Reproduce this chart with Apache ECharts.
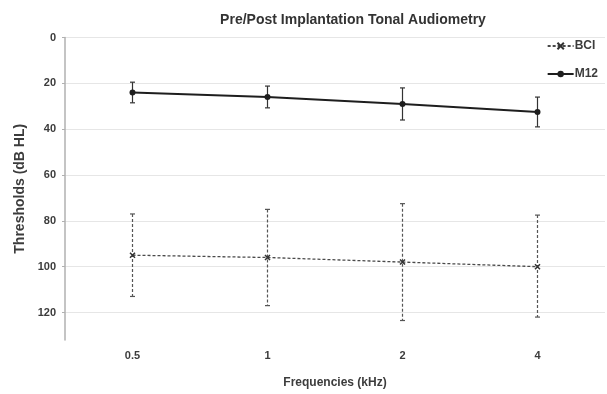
<!DOCTYPE html>
<html>
<head>
<meta charset="utf-8">
<script src="https://cdn.jsdelivr.net/npm/echarts@6/dist/echarts.min.js"></script>
<style>
html,body{margin:0;padding:0;background:#fff;}
#chart{width:607px;height:394px;}
</style>
</head>
<body>
<div id="chart"></div>
<script>
const categories = ['0.5', '1', '2', '4'];
const bciMean = [95, 96, 98, 100];
const bciLow = [77, 75, 72.5, 77.5];
const bciHigh = [113, 117, 123.5, 122];
const m12Mean = [24, 26, 29, 32.5];
const m12Low = [19.5, 21.2, 22, 26];
const m12High = [28.5, 30.7, 36, 39];
const yTicks = [0, 20, 40, 60, 80, 100, 120];

const font = '"Liberation Sans", Arial, sans-serif';
const textColor = '#3c3c3c';

function errData(low, high) {
  return categories.map((c, i) => [i, low[i], high[i]]);
}
function errRender(color, width, dash) {
  return function (params, api) {
    const x = api.value(0);
    const a = api.coord([x, api.value(1)]);
    const b = api.coord([x, api.value(2)]);
    const cw = 2.5;
    const st = { stroke: color, lineWidth: width, lineDash: dash };
    return {
      type: 'group',
      children: [
        { type: 'line', shape: { x1: a[0], y1: a[1], x2: b[0], y2: b[1] }, style: st },
        { type: 'line', shape: { x1: a[0] - cw, y1: a[1], x2: a[0] + cw, y2: a[1] }, style: { stroke: color, lineWidth: width } },
        { type: 'line', shape: { x1: b[0] - cw, y1: b[1], x2: b[0] + cw, y2: b[1] }, style: { stroke: color, lineWidth: width } }
      ]
    };
  };
}

const xSym = 'path://M0,0L10,10M10,0L0,10';

const chart = echarts.init(document.getElementById('chart'));
chart.setOption({
  animation: false,
  backgroundColor: '#fff',
  title: {
    text: 'Pre/Post Implantation Tonal Audiometry',
    left: 348, textAlign: 'center', top: 8,
    textStyle: { fontFamily: font, fontSize: 14, fontWeight: 'bold', color: '#333' }
  },
  legend: {
    data: ['BCI', 'M12'],
    orient: 'vertical',
    right: 4, top: 35,
    itemGap: 16,
    itemWidth: 26, itemHeight: 8,
    textStyle: { fontFamily: font, fontSize: 12, fontWeight: 'bold', color: textColor, padding: [0, 0, 0, -4] }
  },
  grid: { left: 65, right: 2, top: 37.5, bottom: 47 },
  xAxis: {
    type: 'category',
    data: categories,
    boundaryGap: true,
    name: 'Frequencies (kHz)',
    nameLocation: 'middle',
    nameGap: 37,
    nameTextStyle: { fontFamily: font, fontSize: 12, fontWeight: 'bold', color: textColor },
    axisLine: { show: false },
    axisTick: { show: false },
    axisLabel: { margin: 10, fontFamily: font, fontSize: 11, fontWeight: 'bold', color: textColor },
    splitLine: { show: false }
  },
  yAxis: {
    type: 'value',
    inverse: true,
    min: 0, max: 132, interval: 20,
    name: 'Thresholds (dB HL)',
    nameLocation: 'middle',
    nameGap: 37,
    nameRotate: 90,
    nameTextStyle: { fontFamily: font, fontSize: 14, fontWeight: 'bold', color: textColor },
    axisLine: { show: true, lineStyle: { color: '#b0b0b0', width: 1.5 } },
    axisTick: { show: true, length: 3, lineStyle: { color: '#b0b0b0' } },
    axisLabel: {
      margin: 9, fontFamily: font, fontSize: 11, fontWeight: 'bold', color: textColor,
      showMaxLabel: false,
      formatter: v => (yTicks.indexOf(v) >= 0 ? String(v) : '')
    },
    splitLine: { show: true, showMaxLine: false, lineStyle: { color: '#e6e6e6', width: 1 } }
  },
  series: [
    {
      name: 'BCI', type: 'line', data: bciMean,
      lineStyle: { color: '#4a4a4a', width: 1.3, type: [3, 2] },
      itemStyle: { color: '#4a4a4a', borderColor: '#333', borderWidth: 1.5 },
      symbol: xSym, symbolSize: 5, showSymbol: true, z: 3
    },
    {
      name: 'M12', type: 'line', data: m12Mean,
      lineStyle: { color: '#1e1e1e', width: 2 },
      itemStyle: { color: '#1e1e1e' },
      symbol: 'circle', symbolSize: 6, z: 3
    },
    {
      name: 'BCI err', type: 'custom', data: errData(bciLow, bciHigh),
      encode: { x: 0, y: [1, 2] },
      renderItem: errRender('#555', 1.2, [3, 2]), z: 2, silent: true
    },
    {
      name: 'M12 err', type: 'custom', data: errData(m12Low, m12High),
      encode: { x: 0, y: [1, 2] },
      renderItem: errRender('#333', 1.2, null), z: 2, silent: true
    }
  ]
});
</script>
</body>
</html>
